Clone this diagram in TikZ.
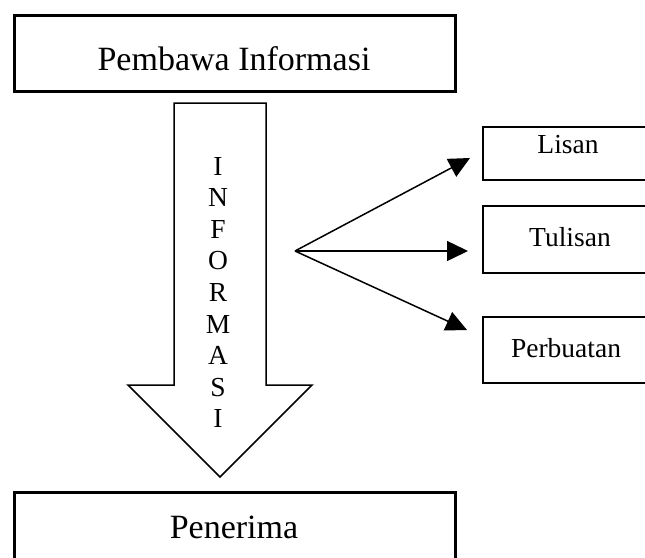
\documentclass[tikz,border=0pt]{standalone}
\usepackage{fontspec}
\setmainfont{Liberation Serif}
\usetikzlibrary{arrows.meta,positioning}

\tikzset{every picture/.style={line width=0.75pt}}
\tikzset{
  bigbox/.style={draw, line width=3pt, minimum width=441pt, inner sep=0pt},
  sidebox/.style={draw, line width=1.5pt, minimum width=177pt, inner sep=0pt},
  bigtext/.style={anchor=base, inner sep=0pt, font=\fontsize{34}{40}\selectfont},
  sidetext/.style={anchor=base, inner sep=0pt, font=\fontsize{27.5}{32}\selectfont},
  fanarrow/.style={line width=1.5pt, -{Triangle[length=21pt,width=20pt]}}
}

\begin{document}
\begin{tikzpicture}[x=1pt,y=1pt,yscale=-1,xscale=1]
\useasboundingbox (0,0) rectangle (645,557);
\clip (0,0) rectangle (645,557);

% Kotak atas dan bawah
\node [bigbox, minimum height=76pt] (pembawa) at (234.5,53) {};
\node [bigtext] (pembawaT) at (234,70) {Pembawa Informasi};
\node [bigbox, minimum height=88pt] (penerima) at (234.5,536) {};
\node [bigtext] (penerimaT) at (234,538) {Penerima};

% Panah blok
\draw [line width=1.5pt, line join=miter]  (174,103) -- (266,103) -- (266,385) -- (312,385) -- (220,477) -- (128,385) -- (174,385) -- cycle ;
\foreach \ch [count=\i] in {I,N,F,O,R,M,A,S,I}
  \node [sidetext] (huruf\i) at (218,{175+31.6*(\i-1)}) {\ch};

% Kotak kanan
\node [sidebox, minimum height=53pt] (lisan) at (571.5,153.5) {};
\node [sidetext] (lisanT) at (568,153) {Lisan};
\node [sidebox, minimum height=67pt] (tulisan) at (571.5,239.5) {};
\node [sidetext] (tulisanT) at (570,246) {Tulisan};
\node [sidebox, minimum height=66pt] (perbuatan) at (571.5,350) {};
\node [sidetext] (perbuatanT) at (566,357) {Perbuatan};

% Panah cabang
\coordinate (fan) at (295,251);
\coordinate (ujungA) at (470,158);
\coordinate (ujungB) at (468,251);
\coordinate (ujungC) at (467,330);
\draw [fanarrow] (fan) -- (ujungA);
\draw [fanarrow] (fan) -- (ujungB);
\draw [fanarrow] (fan) -- (ujungC);

\end{tikzpicture}
\end{document}
